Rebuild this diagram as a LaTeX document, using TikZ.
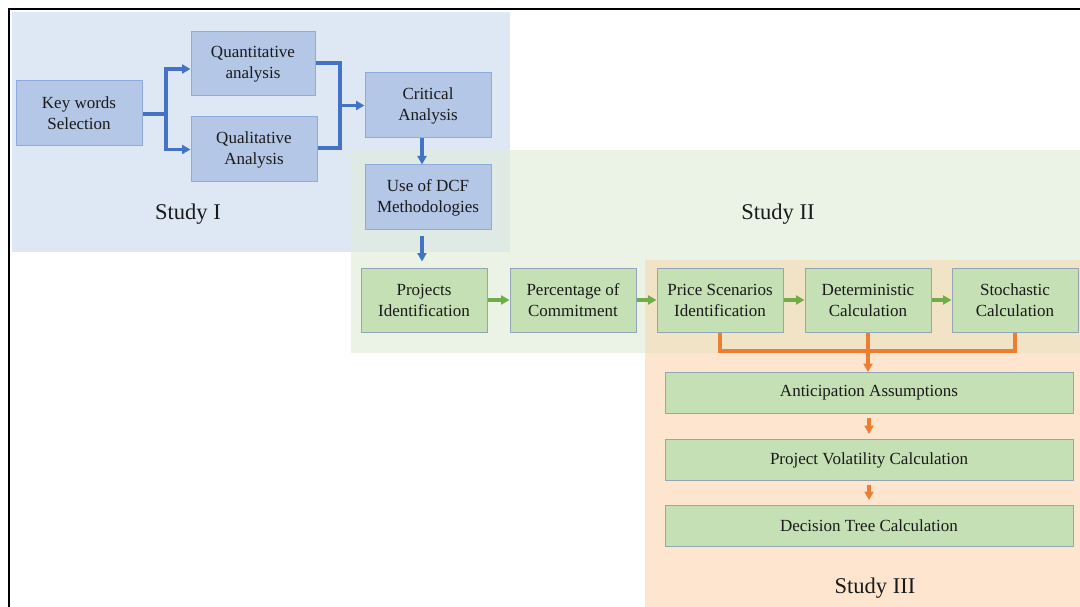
\documentclass[tikz,border=0pt]{standalone}
\usepackage{fontspec}
\setmainfont{Liberation Serif}
\usetikzlibrary{arrows.meta}
\definecolor{regblue}{HTML}{DEE8F4}
\definecolor{reggreen}{HTML}{EBF3E6}
\definecolor{regorange}{HTML}{FDE5D0}
\definecolor{regbg}{HTML}{E0EAE5}
\definecolor{reggo}{HTML}{F0E3C6}
\definecolor{boxblue}{HTML}{B4C7E7}
\definecolor{edgeblue}{HTML}{8FAADC}
\definecolor{boxgreen}{HTML}{C5E0B4}
\definecolor{edgegreen}{HTML}{94A6B4}
\definecolor{lnblue}{HTML}{4472C4}
\definecolor{lngreen}{HTML}{70AD47}
\definecolor{lnorange}{HTML}{ED7D31}
\definecolor{txt}{HTML}{1A1A1A}
\tikzset{
  bluebox/.style={draw=edgeblue, line width=1pt, fill=boxblue, text=txt,
    minimum width=126pt, minimum height=65pt, inner sep=0pt, align=center,
    font=\fontsize{17}{21}\selectfont},
  greenbox/.style={draw=edgegreen, line width=1pt, fill=boxgreen, text=txt,
    minimum width=126pt, minimum height=64pt, inner sep=0pt, align=center,
    font=\fontsize{17}{21}\selectfont},
  widebox/.style={greenbox, minimum width=408pt, minimum height=41pt},
  studylabel/.style={text=txt, inner sep=0pt, font=\fontsize{22.5}{27}\selectfont},
  tipstyle/.style={-{Triangle[length=8.5pt,width=9pt]}},
  bluearrow/.style={draw=lnblue, line width=3.2pt},
  greenarrow/.style={draw=lngreen, line width=3.2pt},
  orangearrow/.style={draw=lnorange, line width=3.2pt},
}
\begin{document}
\begin{tikzpicture}[x=1pt, y=-1pt]
\useasboundingbox (0,0) rectangle (1080,607);
\fill[white] (0,0) rectangle (1080,607);

% study regions
\fill[regblue] (12,12) rectangle (510,252);
\fill[reggreen] (351,150) rectangle (1080,353);
\fill[regorange] (645,260) rectangle (1080,607);
\fill[regbg] (351,150) rectangle (510,252);
\fill[reggo] (645,260) rectangle (1080,353);

% frame
\draw[line width=2pt, black] (9,607) -- (9,9) -- (1080,9);

% Study I
\node[bluebox] (kw) at (79,113.5) {Key words\\Selection};
\node[bluebox, minimum width=124pt, minimum height=64pt] (quant) at (253,64) {Quantitative\\analysis};
\node[bluebox] (qual) at (254,149.5) {Qualitative\\Analysis};
\node[bluebox] (crit) at (428,105.5) {Critical\\Analysis};
\node[bluebox] (dcf) at (428,197.5) {Use of DCF\\Methodologies};

% Study II
\node[greenbox] (proj) at (424,300) {Projects\\Identification};
\node[greenbox] (perc) at (573,300) {Percentage of\\Commitment};
\node[greenbox] (price) at (720,300) {Price Scenarios\\Identification};
\node[greenbox] (det) at (868,300) {Deterministic\\Calculation};
\node[greenbox] (stoch) at (1015,300) {Stochastic\\Calculation};

% Study III
\node[widebox] (antic) at (869,393) {Anticipation Assumptions};
\node[widebox] (vol) at (869,460) {Project Volatility Calculation};
\node[widebox] (tree) at (869,526) {Decision Tree Calculation};

% labels
\node[studylabel] (s1) at (188,214) {Study I};
\node[studylabel] (s2) at (778,214) {Study II};
\node[studylabel] (s3) at (875,588) {Study III};

% blue connectors
\coordinate (split) at (166,114);
\coordinate (merge) at (340,105.5);
\draw[bluearrow] (kw.east |- split) -- (split);
\draw[bluearrow, tipstyle] (split) |- ([yshift=-5pt]quant.west);
\draw[bluearrow, tipstyle] (split) |- (qual.west);
\draw[bluearrow] ([yshift=1pt]quant.east) -| (merge);
\draw[bluearrow] ([yshift=1.5pt]qual.east) -| (merge);
\draw[bluearrow, tipstyle] (merge) -- (crit.west);
\draw[bluearrow, tipstyle] ([xshift=-6pt]crit.south) -- ([xshift=-6pt]crit.south |- dcf.north);
\draw[bluearrow, tipstyle, shorten <=6pt, shorten >=6pt] ([xshift=-6pt]dcf.south) -- ([xshift=-6pt]dcf.south |- proj.north);

% green connectors
\draw[greenarrow, tipstyle] (proj) -- (perc);
\draw[greenarrow, tipstyle] (perc) -- (price);
\draw[greenarrow, tipstyle] (price) -- (det);
\draw[greenarrow, tipstyle] (det) -- (stoch);

% orange connectors
\coordinate (join) at (868.5,351);
\draw[orangearrow] (price.south) |- (join);
\draw[orangearrow] (stoch.south) |- (join);
\draw[orangearrow, tipstyle] (det.south) -- (det.south |- antic.north);
\draw[orangearrow, tipstyle, shorten <=4pt, shorten >=5pt] (antic) -- (vol);
\draw[orangearrow, tipstyle, shorten <=4pt, shorten >=5pt] (vol) -- (tree);
\end{tikzpicture}
\end{document}
